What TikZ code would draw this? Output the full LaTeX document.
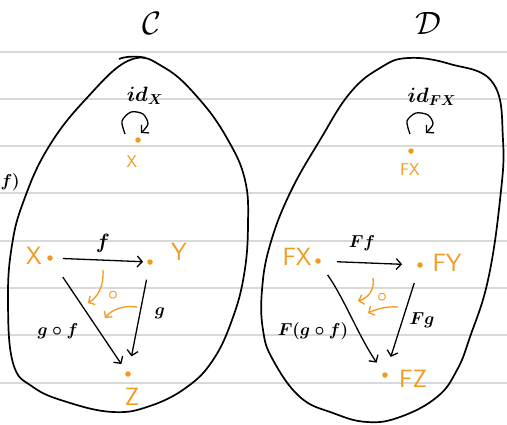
\documentclass[tikz,border=0pt]{standalone}
\usepackage{graphicx}
\usetikzlibrary{arrows.meta}
\definecolor{hand}{HTML}{F29A1F}
\definecolor{rulegray}{HTML}{D9D9D9}
\begin{document}
\begin{tikzpicture}[x=1pt,y=-1pt,
  rulel/.style={draw=rulegray,line width=1.3pt},
  blob/.style={draw=black,line width=1.7pt},
  dot/.style={circle,fill=hand,inner sep=0pt,minimum size=5.5pt},
  olab/.style={text=hand,font=\fontsize{25}{28}\selectfont\sffamily,inner sep=0pt},
  osmall/.style={text=hand,font=\fontsize{17}{20}\selectfont\sffamily,inner sep=0pt},
  ocirc/.style={text=hand,font=\fontsize{17.28}{20}\selectfont\boldmath,inner sep=0pt},
  blab/.style={font=\fontsize{17.28}{20}\selectfont\boldmath,inner sep=0pt},
  bigl/.style={font=\fontsize{20.74}{24}\selectfont\boldmath,inner sep=0pt},
  titl/.style={font=\fontsize{24.88}{28}\selectfont,inner sep=0pt},
  arr/.style={draw,line width=1.3pt,-{Straight Barb[length=5pt,width=11pt]}},
  oarr/.style={draw=hand,line width=1.3pt,-{Straight Barb[length=4.5pt,width=10pt]}}
]
\useasboundingbox (0,0) rectangle (507,424);
\fill[white] (0,0) rectangle (507,424);
% ruled paper
\foreach \yy in {52,99,146,193,241,288,335,383}
  \draw[rulel] (0,\yy) -- (507,\yy);

% blobs
\draw[blob] plot[smooth cycle, tension=0.7] coordinates {(130,60) (165,68) (200,100) (228,140) (245,180) (248,225) (244,275) (232,320) (213,360) (187,387) (150,406) (113,412) (67,402) (33,387) (13,363) (8,300) (12,245) (24,200) (48,148) (85,100)};
\draw[blob] (119,59) .. controls (126,56) and (139,56) .. (146,58);
\draw[blob] plot[smooth cycle, tension=0.7] coordinates {(408,58) (450,64) (493,83) (503,140) (500,200) (488,280) (470,337) (457,370) (437,397) (400,417) (367,422) (333,413) (300,397) (273,360) (263,330) (262,290) (270,245) (290,193) (320,140) (350,93) (380,68)};

% titles
\node[titl] (C) at (152,23) {\scalebox{1.3}{$\mathcal{C}$}};
\node[titl] (D) at (428,23) {\scalebox{1.3}{$\mathcal{D}$}};

% partial text at left edge
\node[blab,anchor=east] (cut) at (20,182) {$f)$};

% left identity
\node[bigl] (idx) at (145,96) {$id_X$};
\draw[arr] plot[smooth] coordinates {(125,134) (122,121) (131,112) (143,114) (148,124) (141,133)};
\node[dot] (X0) at (138,140) {};
\node[osmall] (X0l) at (132,162) {X};

% right identity
\node[bigl] (idfx) at (432,97) {$id_{FX}$};
\draw[arr] plot[smooth] coordinates {(410,134) (407,121) (416,113) (428,115) (433,124) (426,133)};
\node[dot] (FX0) at (411,151) {};
\node[osmall] (FX0l) at (410,170) {FX};

% left triangle
\node[dot] (X) at (50,258) {};
\node[olab] (Xl) at (34,256) {X};
\node[dot] (Y) at (150,262) {};
\node[olab] (Yl) at (179,252) {Y};
\node[dot] (Z) at (128,374) {};
\node[olab] (Zl) at (132,397) {Z};

\draw[arr,shorten <=10pt,shorten >=4pt] (X) -- (Y);
\draw[arr,shorten <=20pt,shorten >=9pt] (X) -- (Z);
\draw[arr,shorten <=15pt,shorten >=15pt] (Y) -- (Z);
\node[blab] (fl) at (103,243) {\scalebox{1.2}{$f$}};
\node[blab] (gfl) at (58,331) {$g\circ f$};
\node[blab] (gl) at (160,313) {$g$};

\coordinate (o1s) at (103,270);
\coordinate (o1e) at (88,303);
\draw[oarr] (o1s) .. controls (104,286) and (98,297) .. (o1e);
\node[ocirc] (o1) at (113,295) {$\circ$};
\coordinate (o2s) at (137,307);
\coordinate (o2e) at (105,318);
\draw[oarr] (o2s) .. controls (125,305) and (112,309) .. (o2e);

% right triangle
\node[dot] (FX) at (318,261) {};
\node[olab] (FXl) at (297,257) {FX};
\node[dot] (FY) at (420,265) {};
\node[olab] (FYl) at (447,263) {FY};
\node[dot] (FZ) at (385,375) {};
\node[olab] (FZl) at (413,379) {FZ};

\draw[arr,shorten <=16pt,shorten >=15pt] (FX) -- (FY);
\draw[arr,shorten <=14pt,shorten >=12pt] (FX) .. controls (345,300) and (358,335) .. (FZ);
\draw[arr,shorten <=16pt,shorten >=16pt] (FY) -- (FZ);
\node[blab] (ffl) at (362,243) {$Ff$};
\node[blab] (fgfl) at (313,331) {$F(g\circ f)$};
\node[blab] (fgl) at (422,320) {$Fg$};

\coordinate (o3s) at (373,278);
\coordinate (o3e) at (358,301);
\draw[oarr] (o3s) .. controls (375,290) and (368,298) .. (o3e);
\node[ocirc] (o3) at (382,297) {$\circ$};
\coordinate (o4s) at (398,307);
\coordinate (o4e) at (368,313);
\draw[oarr] (o4s) .. controls (388,306) and (376,309) .. (o4e);
\end{tikzpicture}
\end{document}
